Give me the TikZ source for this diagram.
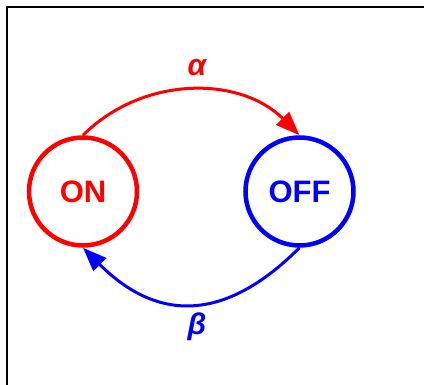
\documentclass[tikz,border=0pt]{standalone}
\usepackage{fontspec}
\setmainfont{Liberation Sans}
\usetikzlibrary{arrows.meta}
\definecolor{onred}{RGB}{255,0,0}
\definecolor{offblue}{RGB}{0,0,255}
\begin{document}
\begin{tikzpicture}[x=1pt,y=-1pt,
  state/.style={circle,draw,line width=4.5pt,minimum size=108pt,inner sep=0pt,
    font=\fontsize{31}{32}\selectfont\bfseries},
  trans/.style={line width=3pt,-{Triangle[length=24pt,width=18pt]}},
  rate/.style={font=\fontsize{30}{31}\selectfont\bfseries\itshape}]
  \useasboundingbox (0,0) rectangle (424,385);
  % frame edges
  \draw[line width=2pt] (6.5,386) -- (6.5,7.5) -- (426,7.5);
  % states
  \node[state,draw=onred,text=onred] (on) at (83,191.5) {ON};
  \node[state,draw=offblue,text=offblue] (off) at (299.5,191.5) {OFF};
  % transitions
  \draw[trans,onred] (on.north) to[out=45,in=135] (off.north);
  \draw[trans,offblue] (off.south) to[out=-135,in=-45,looseness=1.25] (on.south);
  \node[rate,text=onred] (alpha) at (197,68) {α};
  \node[rate,text=offblue] (beta) at (197,327) {β};
\end{tikzpicture}
\end{document}
